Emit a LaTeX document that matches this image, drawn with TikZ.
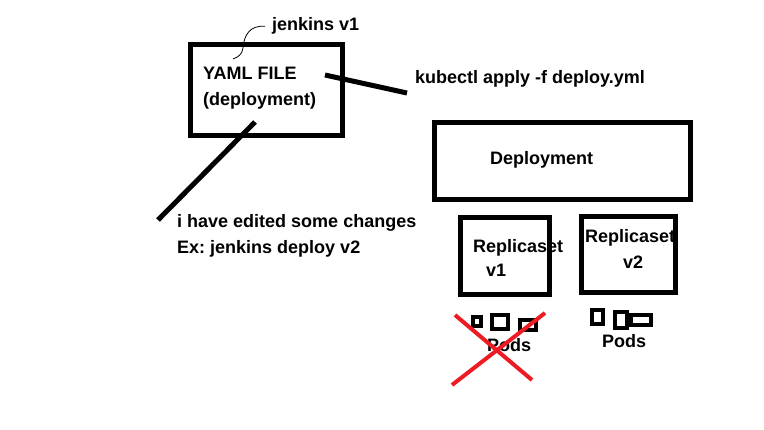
\documentclass[tikz,border=0pt]{standalone}
\usepackage{fontspec}
\setmainfont{Liberation Sans}
\frenchspacing
\definecolor{paintred}{RGB}{237,28,36}
\tikzset{
    box/.style={draw,line width=5pt,minimum width=#1},
    podbox/.style={draw,line width=4pt,inner sep=0pt},
    txt/.style={anchor=base west,inner sep=0pt},
    stroke/.style={line width=5pt},
}
\begin{document}
\begin{tikzpicture}[x=1pt,y=-1pt,font=\fontsize{18}{21}\selectfont\bfseries]
        \useasboundingbox[fill=white] (0,0) rectangle (764,430);
        % yaml file
        \node[box=152pt,minimum height=91pt] (yaml) at (266.5,90) {};
        \node[txt] (yamltop) at (203,80) {YAML FILE};
        \node[txt] (yamlbot) at (203,106) {(deployment)};
        \node[txt] (jenkins) at (272,31) {jenkins v1};
        \coordinate (tag) at (233,59);
        \draw[line width=0.8pt] (jenkins.west) ++(-7,0) .. controls (250,25) and (244,35) .. (243,48) .. controls (242,55) and (238,57) .. (tag);
        % apply
        \node[txt] (kubectl) at (415,84) {kubectl apply -f deploy.yml};
        \coordinate (applyA) at (325,75);
        \coordinate (applyB) at (407,93);
        \draw[stroke] (applyA) -- (applyB);
        % edit
        \node[txt] (edit) at (177,228) {i have edited some changes};
        \node[txt] (example) at (177,254) {Ex: jenkins deploy v2};
        \coordinate (editA) at (255,122);
        \coordinate (editB) at (158,220);
        \draw[stroke] (editA) -- (editB);
        % deployment
        \node[box=256pt,minimum height=77pt] (deploy) at (562.5,161) {};
        \node[txt] (deploytxt) at (490,165) {Deployment};
        \begin{scope}
            \node[box=89pt,minimum height=77pt] (rsone) at (505,256) {};
            \node[txt] at (473,253) {Replicaset};
            \node[txt] at (486,277) {v1};
            \node[podbox,minimum width=8pt,minimum height=9pt] (podA) at (477,321.5) {};
            \node[podbox,minimum width=16pt,minimum height=14pt] (podB) at (500,322) {};
            \node[podbox,minimum width=16pt,minimum height=10pt] (podC) at (528,325) {};
            \node[txt] (podsone) at (487,352) {Pods};
            \draw[paintred,line width=4pt] (455,315) -- (532,380);
            \draw[paintred,line width=4pt] (545,313) -- (452,385);
        \end{scope}
        \begin{scope}
            \node[box=94pt,minimum height=76pt] (rstwo) at (628.5,254.5) {};
            \node[txt] at (585,243) {Replicaset};
            \node[txt] at (623,269) {v2};
            \node[podbox,minimum width=11pt,minimum height=14pt] (podD) at (597.5,317) {};
            \node[podbox,minimum width=12pt,minimum height=16pt] (podE) at (621,320) {};
            \node[podbox,minimum width=20pt,minimum height=10pt] (podF) at (641,320) {};
            \node[txt] (podstwo) at (602,348) {Pods};
        \end{scope}
    \end{tikzpicture}
\end{document}
